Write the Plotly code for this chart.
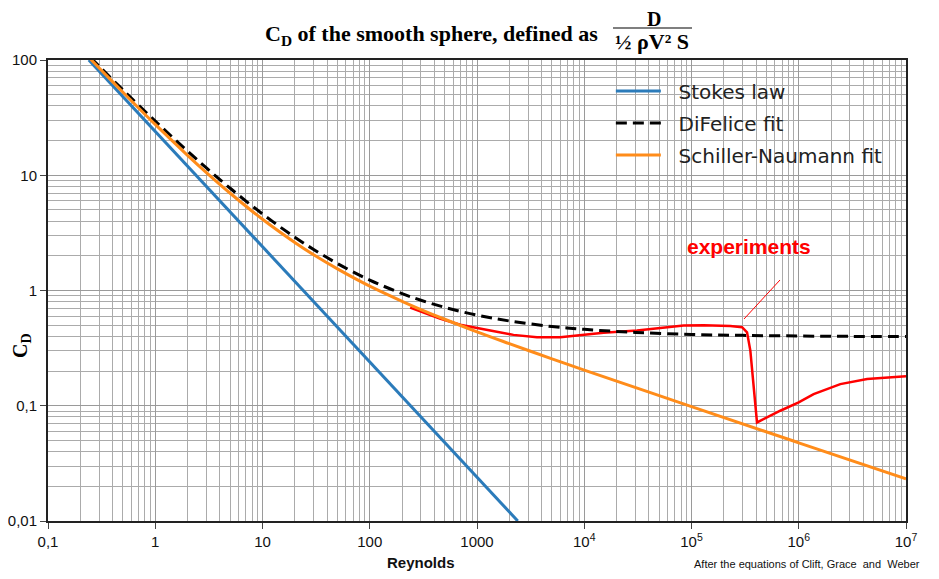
import plotly.graph_objects as go

# ---------------------------------------------------------------------------
# data (Reynolds number vs drag coefficient)

stokes_re = [0.24, 2400]
stokes_cd = [100, 0.01]

difelice_re = [0.25, 0.3, 0.5, 1, 2, 3, 5, 10, 20, 30, 50, 100, 200, 300, 500,
               1000, 2000, 5000, 1e4, 3e4, 1e5, 3e5, 1e6, 3e6, 1e7]
difelice_cd = [104.7, 88.2, 55.0, 29.5, 16.19, 11.57, 7.71, 4.61, 2.90, 2.27, 1.713,
               1.232, 0.940, 0.823, 0.714, 0.611, 0.544, 0.487, 0.460, 0.433,
               0.416, 0.408, 0.403, 0.400, 0.399]

schiller_re = [0.25, 0.3, 0.5, 1, 2, 3, 5, 10, 20, 30, 50, 100, 200, 300, 500,
               1000, 2000, 5000, 1e4, 1e5, 1e6, 1e7]
schiller_cd = [101.6, 85.2, 52.5, 27.6, 14.9, 10.55, 6.98, 4.15, 2.61, 2.04, 1.54,
               1.09, 0.806, 0.684, 0.563, 0.438, 0.346, 0.255, 0.204, 0.0983,
               0.0477, 0.0232]

exp_re = [238, 450, 697, 865, 1328, 2190, 3620, 5970, 9180, 15140, 31040, 54950,
          84400, 129700, 230000, 296000, 329500, 353700, 408000, 673000, 998000,
          1377000, 2440000, 4340000, 1e7]
exp_cd = [0.71, 0.571, 0.505, 0.484, 0.449, 0.412, 0.393, 0.393, 0.412, 0.429,
          0.449, 0.474, 0.496, 0.499, 0.493, 0.480, 0.434, 0.301, 0.0716, 0.0905,
          0.107, 0.126, 0.154, 0.171, 0.180]

x_tickvals = [0.1, 1, 10, 100, 1000, 1e4, 1e5, 1e6, 1e7]
x_ticktext = ["0,1", "1", "10", "100", "1000", "10<sup>4</sup>", "10<sup>5</sup>",
              "10<sup>6</sup>", "10<sup>7</sup>"]
y_tickvals = [0.01, 0.1, 1, 10, 100]
y_ticktext = ["0,01", "0,1", "1", "10", "100"]

# minor grid lines 2..9 inside every decade
x_minor = [m * 10 ** e for e in range(-1, 7) for m in range(2, 10)]
y_minor = [m * 10 ** e for e in range(-2, 2) for m in range(2, 10)]

# ---------------------------------------------------------------------------

fig = go.Figure()

fig.add_trace(go.Scatter(
    x=exp_re, y=exp_cd, mode="lines", showlegend=False,
    line=dict(color="#FF0000", width=2.5),
))
fig.add_trace(go.Scatter(
    name="\u00a0\u00a0Stokes law", x=stokes_re, y=stokes_cd, mode="lines",
    legendgroup="a",
    line=dict(color="#2B7BBA", width=3),
))
fig.add_trace(go.Scatter(
    name="\u00a0\u00a0DiFelice fit", x=difelice_re, y=difelice_cd, mode="lines",
    legendgroup="b",
    line=dict(color="black", width=3, dash="11px,6px", shape="spline"),
))
fig.add_trace(go.Scatter(
    name="\u00a0\u00a0Schiller-Naumann fit", x=schiller_re, y=schiller_cd,
    mode="lines", legendgroup="c",
    line=dict(color="#FF8C1A", width=3, shape="spline"),
))

axis_common = dict(
    type="log",
    automargin=False,
    showgrid=True,
    gridcolor="#9a9a9a",
    gridwidth=1,
    zeroline=False,
    showline=True,
    linecolor="#222222",
    linewidth=2,
    mirror=True,
    ticks="outside",
    ticklen=6,
    tickcolor="#444444",
    tickfont=dict(family="Liberation Sans, Arial", size=15, color="#111111"),
)

# the page body adds 8px around the figure
fig.update_layout(
    width=923,
    height=563,
    margin=dict(l=40, r=25, t=52, b=50),
    plot_bgcolor="white",
    paper_bgcolor="white",
    xaxis=dict(
        axis_common,
        range=[-1, 7],
        tickmode="array",
        tickvals=x_tickvals,
        ticktext=x_ticktext,
        minor=dict(tickvals=x_minor, showgrid=True, gridcolor="#ababab", ticks=""),
    ),
    yaxis=dict(
        axis_common,
        range=[-2, 2],
        tickmode="array",
        tickvals=y_tickvals,
        ticktext=y_ticktext,
        minor=dict(tickvals=y_minor, showgrid=True, gridcolor="#ababab", ticks=""),
    ),
    legend=dict(
        x=0.656,
        y=0.975,
        xanchor="left",
        yanchor="top",
        bgcolor="rgba(0,0,0,0)",
        borderwidth=0,
        itemwidth=45,
        tracegroupgap=3,
        font=dict(family="DejaVu Sans", size=20, color="#222222"),
    ),
    showlegend=True,
)


# page pixel -> paper coordinates (plot area spans x 48..906, y 60..521 on the page)
def px2paper(px, py):
    return (px - 48) / 858, (521 - py) / 461


serif_bold = dict(family="Liberation Serif, Times New Roman", size=22, color="black")

annotations = [
    # title text
    dict(text="<b>C<sub>D</sub> of the smooth sphere, defined as</b>",
         x=263, y=35, font=serif_bold, xanchor="left"),
    dict(text="<b>D</b>", x=654, y=19,
         font=dict(family="Liberation Serif, Times New Roman", size=20, color="black"),
         xanchor="center"),
    dict(text="<b>½ ρV² S</b>", x=652, y=41, font=serif_bold, xanchor="center"),
    # y axis title
    dict(text="<b>C<sub>D</sub></b>", x=21, y=345, textangle=-90, xanchor="center",
         font=dict(family="Liberation Serif, Times New Roman", size=20, color="black")),
    # x axis title
    dict(text="<b>Reynolds</b>", x=421, y=562, xanchor="center",
         font=dict(family="Liberation Sans, Arial", size=15, color="#111111")),
    # source note
    dict(text="After the equations of Clift, Grace  and  Weber", x=922, y=564,
         xanchor="right",
         font=dict(family="Liberation Sans, Arial", size=11, color="#111111")),
    # experiments label
    dict(text="<b>experiments</b>", x=749, y=246, xanchor="center",
         font=dict(family="Liberation Sans, Arial", size=21, color="#FF0000")),
]

for a in annotations:
    a["x"], a["y"] = px2paper(a["x"], a["y"])
    a["xref"] = "paper"
    a["yref"] = "paper"
    a["yanchor"] = "middle"
    a["showarrow"] = False

fig.update_layout(annotations=annotations)

# fraction bar in the title and pointer line of the experiments label
fx0, fy = px2paper(613, 28)
fx1, _ = px2paper(692, 28)
lx0, ly0 = px2paper(744, 319)
lx1, ly1 = px2paper(780, 280)
fig.update_layout(shapes=[
    dict(type="line", xref="paper", yref="paper", x0=fx0, x1=fx1, y0=fy, y1=fy,
         line=dict(color="black", width=1.2)),
    dict(type="line", xref="paper", yref="paper", x0=lx0, x1=lx1, y0=ly0, y1=ly1,
         line=dict(color="#FF0000", width=1)),
])

fig.write_html("out.html")
